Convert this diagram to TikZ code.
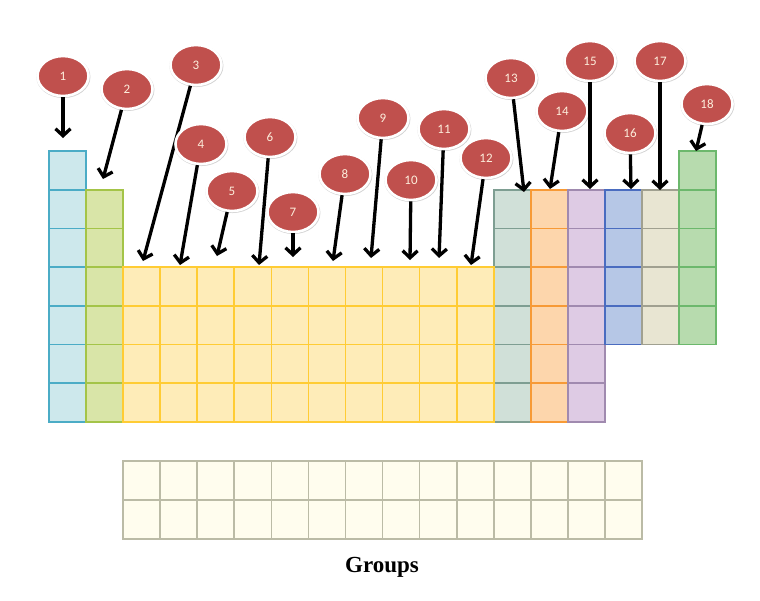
\documentclass[tikz,border=0pt]{standalone}
\usepackage{fontspec}
\newfontfamily\badgefont{Carlito}
\newfontfamily\titlefont{Liberation Serif}
\usetikzlibrary{shapes.geometric, arrows.meta, shadows}

\definecolor{badgered}{HTML}{C0504D}
\definecolor{badgetext}{HTML}{FDEEDC}

\begin{document}
\begin{tikzpicture}[x=1pt, y=-1pt,
    badge/.style={ellipse, fill=badgered, draw=white, line width=2.6pt, minimum width=51pt, minimum height=40pt, inner sep=0pt, text=badgetext, font=\badgefont\fontsize{13}{15}\selectfont, drop shadow={opacity=0.35, fill=gray, shadow scale=1.06, shadow xshift=0.4pt, shadow yshift=-0.8pt}},
    pointer/.style={-{Straight Barb[length=7pt, width=15pt]}, line width=3.3pt, black},
    tealcell/.style={fill={rgb,255:red,205;green,232;blue,236}, draw={rgb,255:red,75;green,172;blue,198}, line width=1.7pt},
    limecell/.style={fill={rgb,255:red,217;green,229;blue,168}, draw={rgb,255:red,164;green,196;blue,72}, line width=1.7pt},
    goldcell/.style={fill={rgb,255:red,254;green,236;blue,184}, draw={rgb,255:red,255;green,204;blue,52}, line width=1.7pt},
    sagecell/.style={fill={rgb,255:red,208;green,224;blue,216}, draw={rgb,255:red,126;green,158;blue,146}, line width=1.7pt},
    peachcell/.style={fill={rgb,255:red,253;green,214;blue,172}, draw={rgb,255:red,247;green,154;blue,54}, line width=1.7pt},
    lilaccell/.style={fill={rgb,255:red,222;green,203;blue,228}, draw={rgb,255:red,160;green,138;blue,175}, line width=1.7pt},
    bluecell/.style={fill={rgb,255:red,182;green,199;blue,230}, draw={rgb,255:red,74;green,108;blue,192}, line width=1.7pt},
    sandcell/.style={fill={rgb,255:red,232;green,229;blue,210}, draw={rgb,255:red,160;green,160;blue,144}, line width=1.7pt},
    greencell/.style={fill={rgb,255:red,183;green,219;blue,174}, draw={rgb,255:red,108;green,184;blue,108}, line width=1.7pt},
    blankcell/.style={fill={rgb,255:red,255;green,253;blue,238}, draw={rgb,255:red,187;green,187;blue,166}, line width=1.7pt}
]
    \useasboundingbox (0,0) rectangle (760,600);

    % Table columns
    \foreach \c/\ra/\rb/\cstyle in {1/1/7/tealcell, 2/2/7/limecell, 13/2/7/sagecell, 14/2/7/peachcell, 15/2/7/lilaccell, 16/2/5/bluecell, 17/2/5/sandcell, 18/1/5/greencell}
        \foreach \r in {\ra,...,\rb}
            \draw[\cstyle] ({49+(\c-1)*37.06},{151+(\r-1)*38.7}) rectangle ++(37.06,38.7);
    \foreach \c in {3,...,12}
        \foreach \r in {4,...,7}
            \draw[goldcell] ({49+(\c-1)*37.06},{151+(\r-1)*38.7}) rectangle ++(37.06,38.7);

    % Lower block
    \foreach \c in {3,...,16}
        \foreach \r in {1,2}
            \draw[blankcell] ({49+(\c-1)*37.06},{461+(\r-1)*39}) rectangle ++(37.06,39);
    \node[font=\titlefont\bfseries\fontsize{23}{26}\selectfont] (groups) at (382,567) {Groups};

    % Group badges and pointers
    \foreach \g/\bx/\by/\tx/\ty in {1/63/76/63/138, 2/127/89/103/179, 3/196/65/143/261, 4/201/144/180/265,
        5/232/191/217/256, 6/270/137/259/265, 7/293/212/293/257, 8/345/174/333/261,
        9/383/118/371/258, 10/411/180/410/260, 11/444/129/439/258, 12/486/158/471/265,
        13/511/78/524/192, 14/562/111/550/189, 15/590/61/590/189, 16/630/133/631/189,
        17/660/61/660/190, 18/707/104/696/151} {
        \node[badge] (g\g) at (\bx,\by) {\g};
        \coordinate (t\g) at (\tx,\ty);
        \draw[pointer] (g\g) -- (t\g);
    }
\end{tikzpicture}
\end{document}
